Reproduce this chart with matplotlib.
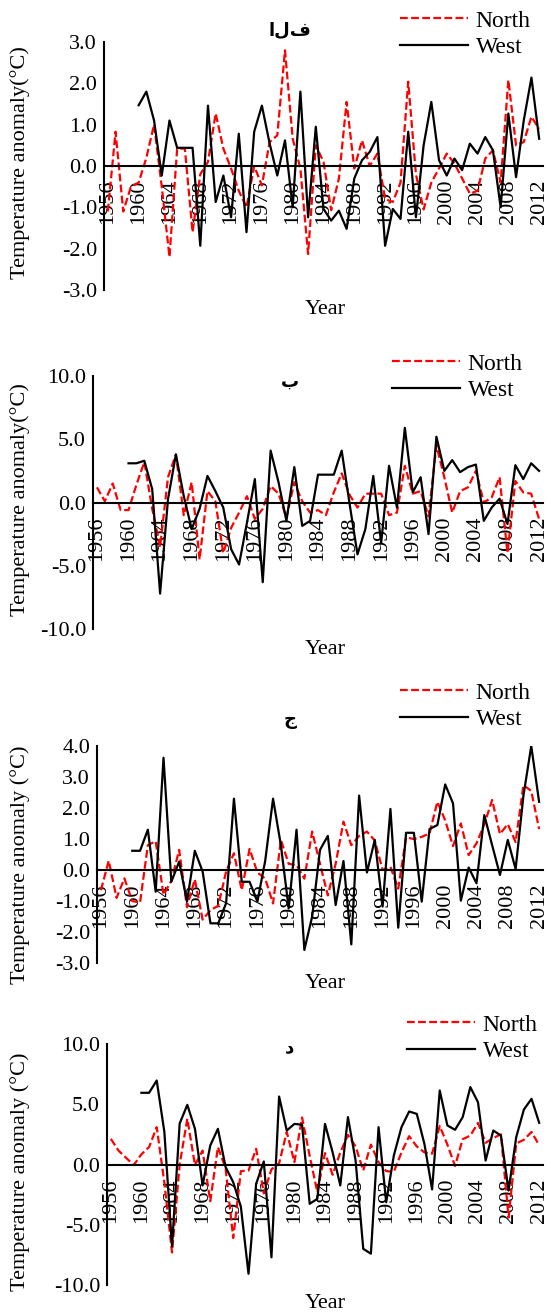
import numpy as np
import matplotlib
matplotlib.use('Agg')
import matplotlib.pyplot as plt
from matplotlib.ticker import FormatStrFormatter

plt.rcParams['font.family'] = ['Liberation Serif', 'DejaVu Sans']
plt.rcParams['axes.unicode_minus'] = False

years = list(range(1956, 2013))
years_west = list(range(1960, 2013))
year_ticks = list(range(1956, 2013, 4))

# panel alef
north_a = [-1.1, 0.83, -1.1, -0.5, -0.4, 0.2, 1.0, -0.5, -2.2, 0.42,
           0.42, -1.6, -0.2, 0.1, 1.27, 0.42, -0.06, -0.6, -1.0, 0.0,
           -0.47, 0.58, 0.74, 2.8, 0.66, -0.06, -2.13, 0.5, 0.1, -1.07,
           -0.3, 1.55, -0.06, 0.62, 0.0, 0.3, -0.8, -0.87, -0.4, 2.04,
           -0.2, -1.05, -0.4, -0.06, 0.3, 0.06, -0.3, -0.67, -0.6, 0.18,
           0.38, -0.4, 2.08, 0.5, 0.58, 1.19, 0.9]
west_a = [1.47, 1.8, 1.1, -0.23, 1.1, 0.44, 0.44, 0.44, -1.93, 1.46,
          -0.87, -0.23, -1.24, 0.78, -1.6, 0.83, 1.46, 0.55, -0.23, 0.62,
          -1.0, 1.8, -1.24, 0.95, -1.04, -1.32, -1.08, -1.52, -0.3, 0.14,
          0.34, 0.7, -1.93, -1.04, -1.28, 0.83, -1.24, 0.5, 1.55, 0.14,
          -0.23, 0.18, -0.1, 0.54, 0.3, 0.7, 0.38, -1.0, 1.27, -0.27,
          1.1, 2.14, 0.66]

# panel be
north_b = [1.2, 0.1, 1.5, -0.6, -0.6, 1.4, 3.2, -0.5, -3.5, 2.0,
           3.8, -1.0, 1.6, -4.5, 0.9, 0.1, -4.0, -2.0, -0.8, 0.5,
           -1.3, -0.5, 1.3, 0.7, -1.2, 1.6, 0.1, -0.8, -0.6, -1.0,
           0.8, 2.3, 0.6, -0.4, 0.7, 0.7, 0.7, -1.0, -0.8, 2.9,
           0.7, 0.9, -1.1, 4.5, 2.0, -0.8, 0.9, 1.2, 2.5, 0.0,
           0.4, 2.0, -4.0, 1.7, 0.8, 0.7, -1.3]
west_b = [3.1, 3.1, 3.3, 1.05, -7.2, 0.26, 3.8, 0.5, -2.1, -0.5,
          2.1, 0.9, -0.4, -3.7, -4.9, -1.6, 1.85, -6.3, 4.1, 1.6,
          -1.45, 2.8, -1.85, -1.45, 2.2, 2.2, 2.2, 4.1, -0.1, -4.1,
          -2.1, 2.1, -3.2, 2.9, -0.4, 5.9, 0.8, 2.0, -2.5, 5.2,
          2.5, 3.35, 2.4, 2.8, 3.0, -1.45, -0.4, 0.3, -1.7, 2.95,
          1.85, 3.1, 2.5]

# panel jim
north_c = [-0.65, 0.3, -0.9, -0.27, -1.0, -1.05, 0.8, 0.93, -0.8, -0.35,
           0.65, -1.2, -0.3, -1.6, -1.3, -1.15, -0.05, 0.54, -0.65, 0.68,
           -0.08, -0.28, -1.08, 0.97, 0.2, 0.16, -0.28, 1.24, 0.2, -0.82,
           0.2, 1.56, 0.8, 1.1, 1.24, 0.95, 0.0, 0.1, -0.6, 1.05,
           1.0, 1.07, 1.18, 2.2, 1.6, 0.77, 1.5, 0.48, 0.86, 1.47,
           2.26, 1.16, 1.48, 0.9, 2.74, 2.55, 1.32]
west_c = [0.62, 0.62, 1.3, -0.7, 3.62, -0.38, 0.27, -1.02, 0.62, -0.05,
          -1.72, -1.72, -1.07, 2.3, -0.38, -0.38, -1.02, 0.3, 2.3, 0.8,
          -1.24, 1.3, -2.58, -1.5, 0.65, 1.1, -1.13, 0.29, -2.4, 2.4,
          -0.08, 0.97, -1.18, 1.97, -1.86, 1.2, 1.2, -1.02, 1.32, 1.45,
          2.76, 2.15, -0.99, 0.08, -0.43, 1.77, 0.8, -0.16, 0.97, 0.03,
          2.4, 4.0, 2.2]

# panel dal
north_d = [2.13, 1.16, 0.55, -0.05, 0.85, 1.44, 3.1, -1.5, -7.3, 0.0,
           3.8, -0.05, 1.16, -3.05, 1.44, -0.3, -6.1, -0.55, -0.5, 1.3,
           -2.4, -0.4, 0.1, 2.7, 0.2, 3.9, 0.7, -2.3, 0.95, -0.85,
           1.0, 2.45, 1.5, -0.5, 1.65, 0.2, -0.55, -0.6, 1.0, 2.35,
           1.5, 1.0, 0.9, 3.2, 1.65, -0.12, 2.1, 2.4, 3.45, 1.8,
           2.2, 2.5, -4.4, 1.75, 2.05, 2.7, 1.6]
west_d = [5.95, 5.95, 6.97, 2.7, -6.8, 3.4, 4.95, 2.96, -1.74, 1.58,
          2.96, -0.2, -1.47, -3.5, -9.07, -1.6, 0.25, -7.7, 5.64, 2.82,
          3.37, 3.3, -3.26, -2.85, 3.37, 1.0, -1.74, 3.93, 0.33, -7.0,
          -7.4, 3.1, -3.13, 0.75, 3.1, 4.4, 4.2, 1.7, -2.07, 6.14,
          3.24, 2.88, 3.93, 6.42, 5.17, 0.33, 2.82, 2.4, -2.16, 2.27,
          4.56, 5.45, 3.46]

titles = ['الف', 'ب', 'ج', 'د']
ylabels = ['Temperature anomaly(°C)', 'Temperature anomaly(°C)',
           'Temperature anomaly (°C)', 'Temperature anomaly (°C)']

W, H = 551, 1312
fig = plt.figure(figsize=(W / 100, H / 100), dpi=100)

def px(x0, y_top, x1, y_bot):
    return [x0 / W, 1 - y_bot / H, (x1 - x0) / W, (y_bot - y_top) / H]

panels = [
    (px(104, 42, 543, 290), north_a, west_a, (-3, 3), np.arange(-3, 3.1, 1),
     (290, 30), (400, 10), 310, 163),
    (px(93, 376, 543, 629), north_b, west_b, (-10, 10), np.arange(-10, 10.1, 5),
     (290, 382), (392, 353), 650, 500),
    (px(97, 746, 543, 963), north_c, west_c, (-3, 4), np.arange(-3, 4.1, 1),
     (290, 720), (400, 682), 984, 865),
    (px(107, 1044, 543, 1285), north_d, west_d, (-10, 10), np.arange(-10, 10.1, 5),
     (290, 1047), (407, 1014), 1303, 1172),
]

for k, (rect, north, west, ylim, yt, tpos, lpos, xl_y, yl_y) in enumerate(panels):
    ax = fig.add_axes(rect)
    ax.plot(years, north, color='red', ls=(0, (3.5, 1.5)), lw=1.6, label='North')
    ax.plot(years_west, west, color='black', lw=1.6, label='West')
    ax.set_xlim(1955.5, 2012.5)
    ax.set_ylim(*ylim)
    ax.set_yticks(yt)
    ax.yaxis.set_major_formatter(FormatStrFormatter('%.1f'))
    ax.set_xticks(year_ticks)
    ax.tick_params(axis='x', length=0, pad=10, labelrotation=90, labelsize=16)
    ax.tick_params(axis='y', length=0, pad=5, labelsize=16)
    ax.spines[['top', 'right']].set_visible(False)
    ax.spines['bottom'].set_position(('data', 0))
    ax.spines['bottom'].set_linewidth(1.5)
    ax.spines['left'].set_linewidth(1.5)
    ax.set_axisbelow(True)
    ax.legend(loc='upper left', bbox_to_anchor=(lpos[0] / W, 1 - lpos[1] / H),
              bbox_transform=fig.transFigure, frameon=False, fontsize=17,
              handlelength=2.9, handletextpad=0.3, labelspacing=0.22,
              borderpad=0, borderaxespad=0)
    fig.text(tpos[0] / W, 1 - tpos[1] / H, titles[k], ha='center', va='center',
             fontsize=13, fontweight='bold', family=['DejaVu Sans'])
    fig.text(325 / W, 1 - xl_y / H, 'Year', ha='center', va='center', fontsize=16)
    fig.text(20 / W, 1 - yl_y / H, ylabels[k], ha='center', va='center',
             rotation=90, fontsize=16)

fig.savefig('out.png', dpi=100)
